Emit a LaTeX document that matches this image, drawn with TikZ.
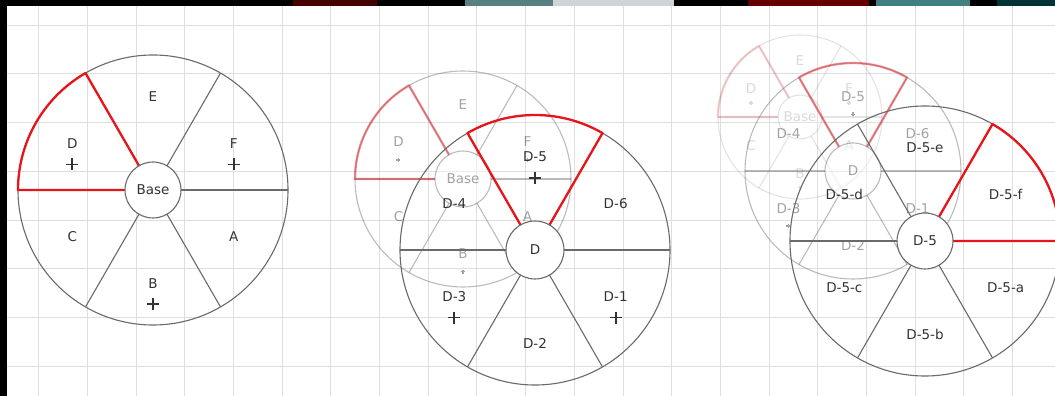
\documentclass[tikz,border=0pt]{standalone}
\usepackage{fontspec}
\setmainfont{DejaVu Sans}
\usetikzlibrary{calc}
\definecolor{linegray}{HTML}{6A6A6A}
\definecolor{redsec}{HTML}{E8141C}
\definecolor{gridgray}{HTML}{DEDEDE}
\definecolor{txt}{HTML}{333333}
\tikzset{
  spoke/.style={draw=linegray, line width=1.1pt},
  redline/.style={draw=redsec, line width=2.3pt, line join=round},
  lab/.style={text=txt, inner sep=0pt, font=\fontsize{13.5}{15}\selectfont},
  hub/.style={circle, draw=linegray, line width=1.1pt, fill=white, inner sep=0pt, text=txt, font=\fontsize{13.5}{15}\selectfont},
  plusmark/.style={draw=txt, line width=1.8pt},
  gridline/.style={draw=gridgray, line width=1pt},
  plushalf/.store in=\plushalf, plushalf=6,
  plusoff/.store in=\plusoff, plusoff=21,
  labdist/.store in=\labdist, labdist=0.69,
}
% #1 name, #2 centre, #3 outer radius, #4 hub radius, #5 hub text,
% #6 sector labels (clockwise from -30 deg), #7 red sector start angle, #8 sectors with a plus
\newcommand{\drawwheel}[8]{%
  \begin{scope}[shift={#2}]
    \foreach \a in {0,60,...,300} \path[spoke] (\a:#4) -- (\a:#3);
    \path[spoke] (0,0) circle[radius=#3];
    \path[redline] (#7:#4) -- (#7:#3) arc[start angle=#7, end angle={#7+60}, radius=#3] -- ({#7+60}:#4);
    \foreach \lbl [count=\i] in {#6}
      \node[lab] (#1-l\i) at ({-30-60*(\i-1)}:{\labdist*#3}) {\lbl};
    \foreach \i in {#8} {%
      \ifnum\i>0
        \path[plusmark] (#1-l\i) ++(0,-\plusoff) +(-\plushalf,0) -- +(\plushalf,0) +(0,-\plushalf) -- +(0,\plushalf);
      \fi}
    \node[hub, minimum size={2*#4}] (#1) at (0,0) {#5};
  \end{scope}}

\begin{document}
\begin{tikzpicture}[x=1pt,y=1pt]
\useasboundingbox (0,0) rectangle (1055,396);
\begin{scope}
\clip (0,0) rectangle (1055,396);
\fill[white] (0,0) rectangle (1055,396);
% grid
\foreach \k in {0,...,21} \path[gridline] ({38.6+48.7*\k},0) -- ++(0,396);
\foreach \k in {0,...,7} \path[gridline] (0,{396-25.3-48.7*\k}) -- ++(1055,0);

% left: base wheel
\drawwheel{base}{(153,206)}{135}{28}{Base}{A,B,C,D,E,F}{120}{2,4,6}

% middle: faded base wheel, then wheel D
\begin{scope}[opacity=0.45, plushalf=2, plusoff=18]
  \drawwheel{baseB}{(463,217)}{108}{28}{Base}{A,B,C,D,E,F}{120}{2,4,6}
\end{scope}
\drawwheel{d}{(535,146)}{135}{29}{D}{D-1,D-2,D-3,D-4,D-5,D-6}{60}{1,3,5}

% right: very faded base, faded D, then wheel D-5
\begin{scope}[opacity=0.18, plushalf=2, plusoff=14]
  \drawwheel{baseC}{(800,279)}{82}{22}{Base}{A,B,C,D,E,F}{120}{2,4,6}
\end{scope}
\begin{scope}[opacity=0.45, plushalf=2, plusoff=18]
  \drawwheel{dB}{(853,225)}{108}{28}{D}{D-1,D-2,D-3,D-4,D-5,D-6}{60}{1,3,5}
\end{scope}
\drawwheel{d5}{(925,155)}{135}{28}{D-5}{D-5-a,D-5-b,D-5-c,D-5-d,D-5-e,D-5-f}{0}{0}

% screenshot borders
\fill[black] (0,390) rectangle (1055,396);
\fill[black] (0,0) rectangle (7,396);
\fill[black!60!red!70!black] (293,390) rectangle (377,396);
\fill[gray!70!teal] (465,390) rectangle (553,396);
\fill[cyan!15!gray!40] (553,390) rectangle (674,396);
\fill[red!40!black] (748,390) rectangle (869,396);
\fill[teal!50!gray] (876,390) rectangle (970,396);
\fill[teal!40!black] (997,390) rectangle (1055,396);
\end{scope}
\end{tikzpicture}
\end{document}
